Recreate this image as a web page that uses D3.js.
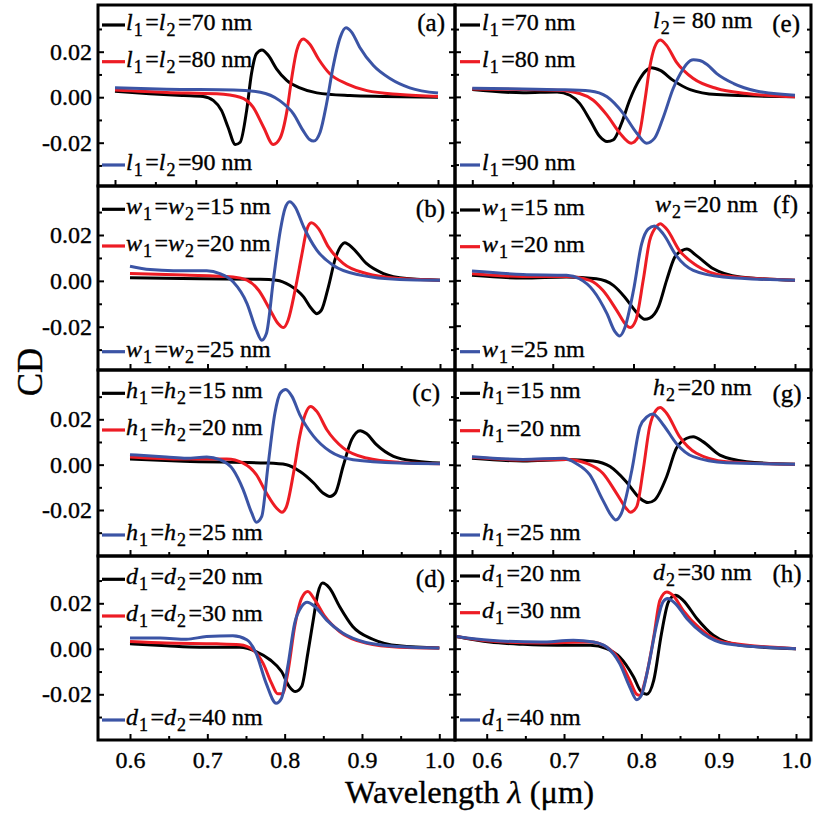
<!DOCTYPE html>
<html>
<head>
<meta charset="utf-8">
<script src="https://cdn.jsdelivr.net/npm/d3@7"></script>
<style>
  body { margin: 0; background: #fff; }
  svg { display: block; }
  svg text { font-family: "Liberation Serif", "Times New Roman", Times, serif !important; stroke: #000; stroke-width: 0.35px; }
</style>
</head>
<body>
<svg id="chart" width="815" height="818"></svg>
<script>
// ---- CD spectra: [wavelength (um), CD] ----
// (a) l1 = l2 sweep
const aL70 = [[0.600,0.0026],[0.643,0.0015],[0.685,0.0007],[0.709,0.0003],[0.722,-0.0015],[0.732,-0.0059],[0.740,-0.0132],[0.749,-0.0208],[0.755,-0.0198],[0.763,-0.0059],[0.769,0.0103],[0.775,0.0190],[0.782,0.0208],[0.790,0.0183],[0.800,0.0125],[0.813,0.0073],[0.829,0.0041],[0.850,0.0019],[0.891,0.0007],[0.932,0.0003],[1.000,0.0000]];
const aL80 = [[0.600,0.0032],[0.664,0.0021],[0.726,0.0015],[0.755,0.0000],[0.771,-0.0044],[0.784,-0.0132],[0.796,-0.0208],[0.804,-0.0183],[0.813,-0.0059],[0.819,0.0088],[0.825,0.0205],[0.833,0.0256],[0.841,0.0234],[0.852,0.0168],[0.866,0.0103],[0.887,0.0059],[0.912,0.0029],[0.953,0.0012],[1.000,0.0003]];
const aL90 = [[0.600,0.0041],[0.664,0.0035],[0.747,0.0032],[0.780,0.0022],[0.804,-0.0015],[0.821,-0.0073],[0.833,-0.0147],[0.841,-0.0186],[0.846,-0.0193],[0.854,-0.0154],[0.862,-0.0029],[0.870,0.0132],[0.879,0.0264],[0.886,0.0305],[0.893,0.0286],[0.903,0.0220],[0.920,0.0139],[0.941,0.0081],[0.965,0.0041],[1.000,0.0018]];
// (b) w1 = w2 sweep
const bW15 = [[0.600,0.0013],[0.690,0.0009],[0.768,0.0007],[0.789,0.0003],[0.806,-0.0019],[0.824,-0.0070],[0.834,-0.0121],[0.841,-0.0143],[0.847,-0.0128],[0.856,-0.0026],[0.865,0.0098],[0.873,0.0156],[0.877,0.0166],[0.888,0.0141],[0.905,0.0076],[0.927,0.0032],[0.957,0.0010],[1.000,0.0003]];
const bW20 = [[0.600,0.0032],[0.669,0.0025],[0.733,0.0017],[0.751,0.0003],[0.766,-0.0041],[0.781,-0.0128],[0.791,-0.0186],[0.798,-0.0204],[0.804,-0.0172],[0.813,-0.0041],[0.822,0.0119],[0.828,0.0221],[0.834,0.0253],[0.843,0.0229],[0.856,0.0148],[0.875,0.0076],[0.905,0.0032],[0.948,0.0010],[1.000,0.0003]];
const bW25 = [[0.600,0.0064],[0.626,0.0049],[0.656,0.0044],[0.699,0.0044],[0.716,0.0032],[0.733,-0.0004],[0.751,-0.0099],[0.763,-0.0215],[0.770,-0.0259],[0.776,-0.0230],[0.785,0.0003],[0.794,0.0221],[0.800,0.0316],[0.806,0.0345],[0.813,0.0323],[0.824,0.0236],[0.841,0.0134],[0.862,0.0068],[0.897,0.0025],[0.948,0.0006],[1.000,0.0003]];
// (c) h1 = h2 sweep
const cH15 = [[0.600,0.0025],[0.669,0.0015],[0.776,0.0007],[0.802,0.0000],[0.819,-0.0029],[0.837,-0.0081],[0.849,-0.0125],[0.858,-0.0140],[0.865,-0.0125],[0.875,-0.0007],[0.886,0.0110],[0.897,0.0150],[0.905,0.0137],[0.918,0.0088],[0.940,0.0037],[0.970,0.0015],[1.000,0.0007]];
const cH20 = [[0.600,0.0034],[0.669,0.0025],[0.725,0.0025],[0.746,0.0007],[0.763,-0.0044],[0.776,-0.0125],[0.789,-0.0191],[0.796,-0.0210],[0.802,-0.0184],[0.811,-0.0037],[0.819,0.0125],[0.826,0.0221],[0.833,0.0257],[0.841,0.0235],[0.854,0.0154],[0.875,0.0074],[0.905,0.0029],[0.948,0.0010],[1.000,0.0004]];
const cH25 = [[0.600,0.0044],[0.647,0.0034],[0.673,0.0028],[0.699,0.0034],[0.716,0.0022],[0.733,-0.0022],[0.746,-0.0110],[0.757,-0.0213],[0.763,-0.0254],[0.770,-0.0228],[0.778,-0.0007],[0.787,0.0228],[0.794,0.0316],[0.801,0.0331],[0.809,0.0301],[0.819,0.0221],[0.837,0.0125],[0.858,0.0059],[0.888,0.0022],[0.948,0.0007],[1.000,0.0004]];
// (d) d1 = d2 sweep
const dD20 = [[0.600,0.0022],[0.647,0.0013],[0.690,0.0007],[0.742,0.0007],[0.763,-0.0012],[0.781,-0.0048],[0.796,-0.0100],[0.806,-0.0166],[0.814,-0.0188],[0.822,-0.0166],[0.830,-0.0019],[0.837,0.0127],[0.843,0.0245],[0.849,0.0289],[0.858,0.0267],[0.871,0.0186],[0.888,0.0098],[0.914,0.0042],[0.948,0.0013],[1.000,0.0003]];
const dD30 = [[0.600,0.0032],[0.647,0.0025],[0.712,0.0022],[0.742,0.0018],[0.759,-0.0004],[0.772,-0.0063],[0.783,-0.0151],[0.791,-0.0198],[0.797,-0.0198],[0.804,-0.0107],[0.813,0.0098],[0.822,0.0223],[0.830,0.0252],[0.839,0.0215],[0.852,0.0142],[0.871,0.0076],[0.905,0.0025],[0.948,0.0007],[1.000,0.0003]];
const dD40 = [[0.600,0.0047],[0.639,0.0047],[0.673,0.0042],[0.699,0.0054],[0.733,0.0057],[0.751,0.0040],[0.763,-0.0019],[0.776,-0.0151],[0.789,-0.0239],[0.796,-0.0217],[0.804,-0.0078],[0.813,0.0113],[0.822,0.0186],[0.829,0.0205],[0.839,0.0186],[0.854,0.0127],[0.875,0.0069],[0.905,0.0028],[0.948,0.0010],[1.000,0.0003]];
// (e) l1 sweep, l2 = 80 nm
const eL70 = [[0.600,0.0032],[0.663,0.0018],[0.705,0.0022],[0.721,0.0007],[0.733,-0.0029],[0.746,-0.0103],[0.758,-0.0176],[0.767,-0.0198],[0.775,-0.0190],[0.785,-0.0117],[0.795,-0.0015],[0.808,0.0081],[0.815,0.0115],[0.822,0.0129],[0.833,0.0117],[0.849,0.0073],[0.870,0.0032],[0.903,0.0010],[1.000,0.0000]];
const eL80 = [[0.600,0.0035],[0.705,0.0029],[0.733,0.0015],[0.750,-0.0015],[0.767,-0.0081],[0.783,-0.0161],[0.797,-0.0205],[0.806,-0.0176],[0.814,-0.0015],[0.820,0.0132],[0.826,0.0220],[0.833,0.0252],[0.841,0.0227],[0.853,0.0154],[0.874,0.0081],[0.903,0.0037],[0.940,0.0015],[1.000,0.0000]];
const eL90 = [[0.600,0.0038],[0.705,0.0032],[0.746,0.0026],[0.767,0.0000],[0.787,-0.0073],[0.804,-0.0161],[0.816,-0.0205],[0.826,-0.0183],[0.837,-0.0088],[0.849,0.0037],[0.858,0.0103],[0.866,0.0147],[0.874,0.0164],[0.882,0.0161],[0.891,0.0143],[0.903,0.0103],[0.924,0.0059],[0.952,0.0026],[1.000,0.0007]];
// (f) w1 sweep, w2 = 20 nm
const fW15 = [[0.600,0.0022],[0.663,0.0010],[0.717,0.0015],[0.754,0.0007],[0.775,-0.0022],[0.789,-0.0073],[0.803,-0.0138],[0.814,-0.0172],[0.820,-0.0167],[0.831,-0.0116],[0.841,0.0000],[0.851,0.0102],[0.860,0.0131],[0.866,0.0138],[0.878,0.0109],[0.899,0.0051],[0.932,0.0015],[1.000,0.0000]];
const fW20 = [[0.600,0.0029],[0.663,0.0017],[0.717,0.0017],[0.746,0.0000],[0.762,-0.0044],[0.779,-0.0131],[0.791,-0.0197],[0.796,-0.0208],[0.803,-0.0175],[0.812,0.0000],[0.820,0.0175],[0.829,0.0240],[0.833,0.0250],[0.841,0.0226],[0.857,0.0131],[0.878,0.0066],[0.911,0.0022],[1.000,0.0000]];
const fW25 = [[0.600,0.0041],[0.663,0.0026],[0.717,0.0022],[0.733,0.0007],[0.750,-0.0044],[0.767,-0.0146],[0.777,-0.0226],[0.783,-0.0245],[0.789,-0.0211],[0.800,-0.0044],[0.810,0.0160],[0.818,0.0226],[0.826,0.0240],[0.837,0.0204],[0.853,0.0109],[0.874,0.0044],[0.911,0.0015],[1.000,0.0000]];
// (g) h1 sweep, h2 = 20 nm
const gH15 = [[0.600,0.0030],[0.663,0.0018],[0.717,0.0025],[0.750,0.0018],[0.771,-0.0007],[0.791,-0.0074],[0.808,-0.0148],[0.818,-0.0167],[0.826,-0.0156],[0.841,-0.0052],[0.853,0.0074],[0.866,0.0119],[0.874,0.0126],[0.886,0.0104],[0.907,0.0044],[0.940,0.0015],[1.000,0.0003]];
const gH20 = [[0.600,0.0034],[0.663,0.0022],[0.717,0.0025],[0.742,0.0007],[0.762,-0.0037],[0.779,-0.0126],[0.791,-0.0193],[0.796,-0.0210],[0.804,-0.0185],[0.812,-0.0022],[0.820,0.0170],[0.828,0.0244],[0.833,0.0256],[0.841,0.0230],[0.857,0.0126],[0.878,0.0052],[0.915,0.0015],[1.000,0.0003]];
const gH25 = [[0.600,0.0037],[0.663,0.0025],[0.713,0.0030],[0.729,0.0007],[0.746,-0.0044],[0.762,-0.0156],[0.773,-0.0227],[0.778,-0.0244],[0.785,-0.0215],[0.798,-0.0022],[0.808,0.0170],[0.817,0.0215],[0.824,0.0227],[0.837,0.0178],[0.853,0.0096],[0.874,0.0037],[0.915,0.0010],[1.000,0.0003]];
// (h) d1 sweep, d2 = 30 nm
const hD20 = [[0.561,0.0054],[0.604,0.0029],[0.647,0.0019],[0.691,0.0015],[0.734,0.0015],[0.755,0.0000],[0.772,-0.0037],[0.790,-0.0125],[0.800,-0.0191],[0.807,-0.0201],[0.816,-0.0140],[0.826,0.0066],[0.835,0.0206],[0.844,0.0235],[0.854,0.0213],[0.872,0.0132],[0.893,0.0059],[0.928,0.0015],[1.000,0.0000]];
const hD30 = [[0.561,0.0054],[0.604,0.0034],[0.669,0.0025],[0.734,0.0029],[0.755,0.0007],[0.772,-0.0051],[0.785,-0.0140],[0.794,-0.0201],[0.798,-0.0206],[0.805,-0.0140],[0.816,0.0051],[0.824,0.0213],[0.833,0.0250],[0.841,0.0235],[0.854,0.0169],[0.876,0.0088],[0.906,0.0029],[1.000,0.0000]];
const hD40 = [[0.561,0.0054],[0.604,0.0037],[0.669,0.0029],[0.712,0.0037],[0.738,0.0029],[0.755,0.0007],[0.772,-0.0066],[0.785,-0.0169],[0.794,-0.0225],[0.800,-0.0206],[0.809,-0.0081],[0.820,0.0110],[0.828,0.0206],[0.834,0.0221],[0.844,0.0199],[0.859,0.0132],[0.880,0.0066],[0.910,0.0022],[1.000,0.0000]];

// ---- legend and annotation text ----
const labelsA = ["l_1=l_2=70 nm", "l_1=l_2=80 nm", "l_1=l_2=90 nm"];
const labelsB = ["w_1=w_2=15 nm", "w_1=w_2=20 nm", "w_1=w_2=25 nm"];
const labelsC = ["h_1=h_2=15 nm", "h_1=h_2=20 nm", "h_1=h_2=25 nm"];
const labelsD = ["d_1=d_2=20 nm", "d_1=d_2=30 nm", "d_1=d_2=40 nm"];
const labelsE = ["l_1=70 nm", "l_1=80 nm", "l_1=90 nm"];
const labelsF = ["w_1=15 nm", "w_1=20 nm", "w_1=25 nm"];
const labelsG = ["h_1=15 nm", "h_1=20 nm", "h_1=25 nm"];
const labelsH = ["d_1=20 nm", "d_1=30 nm", "d_1=40 nm"];
const fixedNotes = ["l_2= 80 nm", "w_2=20 nm", "h_2=20 nm", "d_2=30 nm"];
const panelTags = ["(a)", "(b)", "(c)", "(d)", "(e)", "(f)", "(g)", "(h)"];

// ---- ticks ----
const xMajor = [0.6, 0.7, 0.8, 0.9, 1.0];
const xMinor = [0.65, 0.75, 0.85, 0.95];
const xTickText = ["0.6", "0.7", "0.8", "0.9", "1.0"];
const yMajor = [-0.02, 0.0, 0.02];
const yMinor = [-0.03, -0.01, 0.01, 0.03];
const yTickText = ["-0.02", "0.00", "0.02"];

const seriesColors = ["#000000", "#ed1c24", "#3b54a5"];

// ---- panel layout ----
const rowTop = [5, 186, 370, 556];
const rowBottom = [186, 370, 556, 740];
const colLeft = [98, 455];
const colRight = [455, 811];

const panels = [
  { id: "a", col: 0, row: 0, series: [aL70, aL80, aL90], labels: labelsA, xPx: [115, 438],   yPx: [51.7, 142.7],  legY: [25, 61.7, 165],      tag: [445, 31] },
  { id: "b", col: 0, row: 1, series: [bW15, bW20, bW25], labels: labelsB, xPx: [130, 440],   yPx: [235, 326.7],   legY: [209.3, 246, 351.7],  tag: [445, 216.7] },
  { id: "c", col: 0, row: 2, series: [cH15, cH20, cH25], labels: labelsC, xPx: [130, 440],   yPx: [419.3, 510],   legY: [393.3, 430, 535],    tag: [440, 400.7] },
  { id: "d", col: 0, row: 3, series: [dD20, dD30, dD40], labels: labelsD, xPx: [130, 439.3], yPx: [603.3, 694.3], legY: [579.3, 616, 720],    tag: [445, 586.7] },
  { id: "e", col: 1, row: 0, series: [eL70, eL80, eL90], labels: labelsE, xPx: [472.3, 795], yPx: [51.7, 142],    legY: [25, 61.7, 165],      tag: [800, 31.7], note: [653, 28.3] },
  { id: "f", col: 1, row: 1, series: [fW15, fW20, fW25], labels: labelsF, xPx: [472, 795],   yPx: [235, 325.7],   legY: [210, 246.7, 351.7],  tag: [798, 213],  note: [655, 211.7] },
  { id: "g", col: 1, row: 2, series: [gH15, gH20, gH25], labels: labelsG, xPx: [472, 795],   yPx: [420, 510],     legY: [393.3, 430.7, 535],  tag: [801.7, 401.7], note: [653, 395] },
  { id: "h", col: 1, row: 3, series: [hD20, hD30, hD40], labels: labelsH, xPx: [486.7, 796], yPx: [603.3, 694],   legY: [576, 612.7, 720],    tag: [801.7, 581.7], note: [653, 580] }
];

const svg = d3.select("#chart");

// Writes a label such as "l_1=l_2=70 nm": italic symbol, subscripted index.
function richText(textSel, str, subSize, shift) {
  const re = /([a-z])_(\d)/g;
  let last = 0, m, lowered = false;
  const add = (t, opt) => {
    const ts = textSel.append("tspan").text(t);
    if (opt.italic) ts.style("font-style", "italic");
    if (opt.sub) {
      ts.style("font-size", subSize + "px").attr("dy", shift).attr("dx", 1);
      lowered = true;
    } else if (lowered) {
      ts.attr("dy", -shift).attr("dx", 2.5);
      lowered = false;
    }
  };
  while ((m = re.exec(str)) !== null) {
    if (m.index > last) add(str.slice(last, m.index), {});
    add(m[1], { italic: true });
    add(m[2], { sub: true });
    last = re.lastIndex;
  }
  if (last < str.length) add(str.slice(last), {});
}

panels.forEach((p, idx) => {
  const x0 = p.col === 0 ? colLeft[0] : colRight[0];
  const x1 = p.col === 0 ? colLeft[1] : colRight[1];
  const y0 = rowTop[p.row], y1 = rowBottom[p.row];

  const x = d3.scaleLinear().domain([0.6, 1.0]).range(p.xPx);
  const y = d3.scaleLinear().domain([0.02, -0.02]).range(p.yPx);

  const g = svg.append("g").attr("class", "panel-" + p.id);

  const clipId = "clip-" + p.id;
  svg.append("clipPath").attr("id", clipId)
    .append("rect").attr("x", x0).attr("y", y0).attr("width", x1 - x0).attr("height", y1 - y0);

  // curves
  const line = d3.line().x(d => x(d[0])).y(d => y(d[1])).curve(d3.curveMonotoneX);
  const curves = g.append("g").attr("clip-path", `url(#${clipId})`);
  p.series.forEach((s, i) => {
    curves.append("path").datum(s)
      .attr("d", line)
      .attr("fill", "none")
      .attr("stroke", seriesColors[i])
      .attr("stroke-width", 3)
      .attr("stroke-linejoin", "round");
  });

  // axes: inward ticks on bottom, left and right
  const isBottom = p.row === 3;
  const isLeftCol = p.col === 0;

  const styleAxis = sel => {
    sel.attr("font-family", null).attr("font-size", null);
    sel.select(".domain").remove();
    sel.selectAll(".tick line").attr("stroke", "#000").attr("stroke-width", 2);
    sel.selectAll("text").style("font-size", "24px").attr("fill", "#000");
  };

  g.append("g").attr("transform", `translate(0,${y1})`)
    .call(d3.axisBottom(x).tickValues(xMajor).tickSize(-6).tickPadding(11)
      .tickFormat((d, i) => isBottom ? xTickText[i] : ""))
    .call(styleAxis);
  g.append("g").attr("transform", `translate(0,${y1})`)
    .call(d3.axisBottom(x).tickValues(xMinor).tickSize(-4).tickFormat(""))
    .call(styleAxis);

  g.append("g").attr("transform", `translate(${x0},0)`)
    .call(d3.axisLeft(y).tickValues(yMajor).tickSize(-6).tickPadding(6)
      .tickFormat((d, i) => isLeftCol ? yTickText[i] : ""))
    .call(styleAxis);
  g.append("g").attr("transform", `translate(${x0},0)`)
    .call(d3.axisLeft(y).tickValues(yMinor).tickSize(-4).tickFormat(""))
    .call(styleAxis);
  g.append("g").attr("transform", `translate(${x1},0)`)
    .call(d3.axisRight(y).tickValues(yMajor).tickSize(-6).tickFormat(""))
    .call(styleAxis);
  g.append("g").attr("transform", `translate(${x1},0)`)
    .call(d3.axisRight(y).tickValues(yMinor).tickSize(-4).tickFormat(""))
    .call(styleAxis);

  // frame
  g.append("rect")
    .attr("x", x0).attr("y", y0).attr("width", x1 - x0).attr("height", y1 - y0)
    .attr("fill", "none").attr("stroke", "#000").attr("stroke-width", 3);

  // legend
  const sx = isLeftCol ? [102, 125] : [460, 480];
  const tx = isLeftCol ? 126 : 482;
  p.labels.forEach((lab, i) => {
    const ly = p.legY[i];
    g.append("line").attr("x1", sx[0]).attr("x2", sx[1]).attr("y1", ly).attr("y2", ly)
      .attr("stroke", seriesColors[i]).attr("stroke-width", 3.2);
    const t = g.append("text").attr("x", tx).attr("y", ly + 5)
      .style("font-size", "24px").attr("fill", "#000");
    richText(t, lab, 18, 6);
  });

  // fixed-parameter note on the right-column panels
  if (p.note) {
    const t = g.append("text").attr("x", p.note[0]).attr("y", p.note[1])
      .style("font-size", "24px").attr("fill", "#000");
    richText(t, fixedNotes[p.row], 18, 6);
  }

  // panel tag
  g.append("text").attr("x", p.tag[0]).attr("y", p.tag[1])
    .attr("text-anchor", "end").style("font-size", "25px")
    .attr("fill", "#000").text(panelTags[idx]);
});

// axis titles
svg.append("text")
  .attr("transform", "translate(42,372) rotate(-90)")
  .attr("text-anchor", "middle")
  .style("font-size", "35px").attr("fill", "#000")
  .text("CD");

const xt = svg.append("text").attr("x", 345).attr("y", 803)
  .style("font-size", "32.5px").attr("fill", "#000");
xt.append("tspan").text("Wavelength ");
xt.append("tspan").style("font-style", "italic").text("λ");
xt.append("tspan").text(" (μm)");
</script>
</body>
</html>
